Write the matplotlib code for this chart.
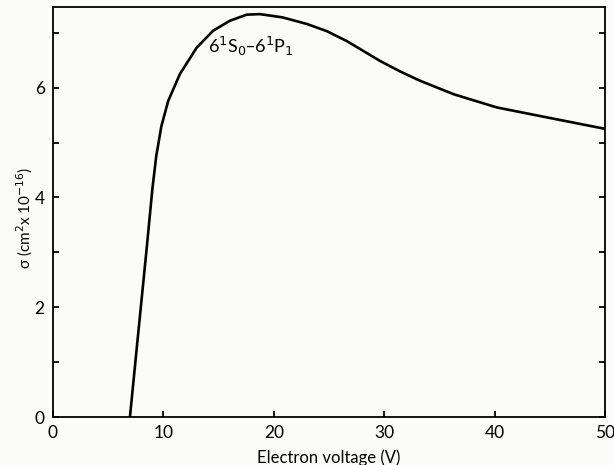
import matplotlib
matplotlib.use("Agg")
import matplotlib.pyplot as plt
from matplotlib.ticker import MultipleLocator

# excitation cross section of the 6 1S0 - 6 1P1 transition
voltage = [6.97, 7.57, 8.05, 8.5, 9.0, 9.35, 9.82, 10.44, 11.5, 13.02,
           14.52, 16.03, 17.55, 18.75, 20.8, 23.0, 24.8, 26.6, 28.1, 29.6,
           31.4, 33.2, 36.3, 40.2, 44.7, 50.0]
sigma = [0.0, 1.22, 2.19, 3.10, 4.15, 4.75, 5.30, 5.76, 6.25, 6.73,
         7.04, 7.22, 7.33, 7.34, 7.28, 7.16, 7.03, 6.85, 6.67, 6.49,
         6.30, 6.13, 5.88, 5.64, 5.46, 5.25]

xticks = [0, 10, 20, 30, 40, 50]
yticks = [0, 2, 4, 6]

plt.rcParams['font.family'] = ['Lato', 'DejaVu Sans']

fig = plt.figure(figsize=(6.14, 4.65), dpi=100, facecolor='#fbfbf9')
ax = fig.add_axes([0.0863, 0.1032, 0.899, 0.8818])
ax.set_facecolor('#fbfbf9')

ax.plot(voltage, sigma, color='black', lw=1.9, solid_capstyle='round',
        solid_joinstyle='round')

ax.set_xlim(0, 50)
ax.set_ylim(0, 7.47)
ax.set_xticks(xticks)
ax.set_yticks(yticks)
ax.yaxis.set_minor_locator(MultipleLocator(1))

for s in ax.spines.values():
    s.set_linewidth(1.3)

ax.tick_params(axis='both', which='both', direction='in', width=1.3,
               labelsize=12.5, pad=6)
ax.tick_params(axis='y', which='both', right=True, length=4)
ax.tick_params(axis='x', length=4)

ax.set_xlabel('Electron voltage (V)', fontsize=12, labelpad=6)
ax.set_ylabel('σ (cm$^2$x 10$^{-16}$)', fontsize=11)
ax.yaxis.set_label_coords(-0.032, 0.485)

ax.text(14.0, 6.75, '6$^1$S$_0$–6$^1$P$_1$', fontsize=13, va='center')

fig.savefig('out.png', dpi=100, facecolor=fig.get_facecolor())
